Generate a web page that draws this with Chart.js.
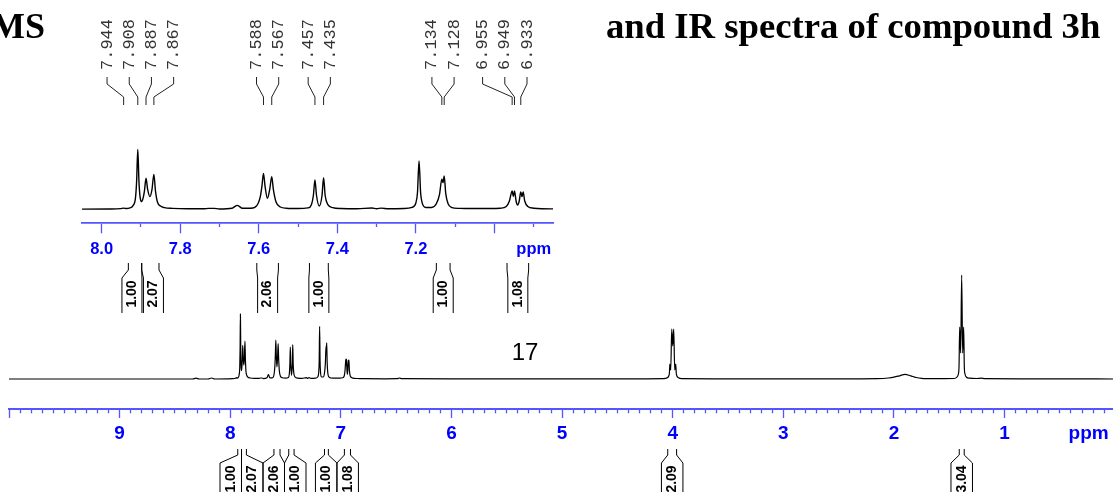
<!DOCTYPE html>
<html>
<head>
<meta charset="utf-8">
<script src="https://cdn.jsdelivr.net/npm/chart.js@4.4.1/dist/chart.umd.min.js"></script>
<style>
  html, body { margin: 0; padding: 0; background: #fff; }
  #wrap { position: relative; width: 1113px; height: 492px; overflow: hidden; }
  #main, #inset { position: absolute; left: 0; top: 0; }
</style>
</head>
<body>
<div id="wrap">
  <canvas id="main" width="1113" height="492"></canvas>
  <canvas id="inset" width="600" height="320"></canvas>
</div>
<script>
// spectrum trace (ppm, height above baseline)
const lowFieldPpm = [10.00, 8.34, 8.31, 8.28, 8.20, 8.17, 8.14, 7.980, 7.952, 7.944, 7.937, 7.928, 7.920, 7.914, 7.911, 7.908, 7.905, 7.902, 7.898, 7.894, 7.891, 7.887, 7.883, 7.877, 7.872, 7.867, 7.863, 7.858, 7.850, 7.840, 7.820, 7.780, 7.740, 7.728, 7.714, 7.700, 7.668, 7.660, 7.655, 7.650, 7.642, 7.620, 7.605, 7.596, 7.592, 7.588, 7.584, 7.578, 7.572, 7.567, 7.563, 7.556, 7.545, 7.530, 7.500, 7.475, 7.466, 7.461, 7.457, 7.453, 7.446, 7.439, 7.435, 7.431, 7.424, 7.412, 7.390, 7.350, 7.312, 7.300, 7.288, 7.270, 7.230, 7.210, 7.200, 7.196, 7.192, 7.188, 7.184, 7.175, 7.160, 7.148, 7.140, 7.134, 7.131, 7.128, 7.124, 7.118, 7.110, 7.090, 7.050, 7.010, 6.985, 6.970, 6.962, 6.955, 6.952, 6.949, 6.945, 6.941, 6.937, 6.933, 6.930, 6.927, 6.923, 6.915, 6.900, 6.880, 6.850, 6.800];
const lowFieldInt = [0, 0, 0.8, 0, 0, 1.0, 0, 0.3, 0.7, 1.3, 0.8, 1.6, 4, 12, 30, 65, 30, 13, 8.3, 13, 20, 33.7, 22, 13.8, 21, 38, 20, 8, 3.5, 1.8, 1.0, 0.6, 0.6, 1.0, 1.0, 0.4, 1.2, 3.3, 4.3, 3.3, 1.2, 1.2, 4, 14, 25, 39, 25, 12, 22, 35.5, 22, 8, 2.5, 1.2, 0.8, 1.5, 5, 15, 31.9, 15, 3.6, 15, 34.4, 15, 5, 1.8, 0.8, 0.6, 1.4, 0.6, 1.3, 0.6, 0.8, 2, 7, 18, 52.5, 18, 7, 2, 2, 6, 16, 32.6, 29, 36.2, 17, 6, 2.2, 1, 0.8, 0.8, 1.2, 3, 9, 20, 13.8, 20, 9, 4.7, 9, 18.9, 13.8, 18.9, 9, 3, 1.2, 0.6, 0.5, 0.3];

const midFieldPpm = [6.600, 6.490, 6.470, 6.450, 6.000, 5.000, 4.300, 4.080, 4.050, 4.036, 4.030, 4.026, 4.018, 4.009, 4.000, 3.991, 3.982, 3.973, 3.968, 3.962, 3.948, 3.920, 3.500];
const midFieldInt = [0.2, 0.3, 1.0, 0.3, 0.2, 0.2, 0.2, 0.3, 1.2, 3, 6, 15, 9, 50, 33, 50, 9, 15, 6, 3, 1.2, 0.3, 0.2];

const highFieldPpm = [2.500, 2.150, 2.050, 2.000, 1.950, 1.900, 1.850, 1.800, 1.750, 1.650, 1.460, 1.430, 1.418, 1.412, 1.406, 1.397, 1.388, 1.379, 1.370, 1.364, 1.358, 1.346, 1.320, 1.250, 1.210, 1.180, 0.600, 0.000];
const highFieldInt = [0.2, 0.4, 1.0, 1.8, 3.2, 4.7, 3.2, 1.5, 0.6, 0.3, 0.5, 2, 5, 12, 52, 26, 104, 26, 52, 12, 5, 2, 0.8, 0.5, 0.8, 0.3, 0.2, 0];

// picked peaks shown above the expansion
const peakLabelPpm = [7.944, 7.908, 7.887, 7.867, 7.588, 7.567, 7.457, 7.435, 7.134, 7.128, 6.955, 6.949, 6.933];

// integrals
const integralFrom = [7.932, 7.898, 7.605, 7.471, 7.148, 6.968, 4.045, 1.410];
const integralTo = [7.898, 7.854, 7.550, 7.423, 7.113, 6.913, 3.965, 1.365];
const integralValue = ['1.00', '2.07', '2.06', '1.00', '1.00', '1.08', '2.09', '3.04'];
const insetIntegralCount = 6;

const AXIS_BLUE = '#5555ff';
const LABEL_BLUE = '#0000ff';

function toPoints(ppm, val) {
    return ppm.map((p, i) => ({ x: p, y: val[i] }));
}
const spectrum = [].concat(
    toPoints(lowFieldPpm, lowFieldInt),
    toPoints(midFieldPpm, midFieldInt),
    toPoints(highFieldPpm, highFieldInt)
);

// push crowded labels apart, keeping each cluster centred on its peaks
function spreadLabels(px, gap, maxX) {
    let groups = px.map(p => ({ items: [p] }));
    const center = g => g.items.reduce((s, v) => s + v, 0) / g.items.length;
    const span = g => (g.items.length - 1) * gap / 2;
    let merged = true;
    while (merged) {
        merged = false;
        for (let i = 0; i < groups.length - 1; i++) {
            const a = groups[i], b = groups[i + 1];
            if ((center(b) - span(b)) - (center(a) + span(a)) < gap) {
                groups.splice(i, 2, { items: a.items.concat(b.items) });
                merged = true;
                break;
            }
        }
    }
    const out = [];
    groups.forEach((g, gi) => {
        let start = center(g) - span(g);
        const end = start + (g.items.length - 1) * gap;
        if (gi === groups.length - 1 && end > maxX) start -= end - maxX;
        g.items.forEach((_, k) => out.push(start + k * gap));
    });
    return out;
}

function drawIntegrals(chart, idx, o) {
    const { ctx, scales: { x } } = chart;
    const centers = idx.map(i => (x.getPixelForValue(integralFrom[i]) + x.getPixelForValue(integralTo[i])) / 2);
    const cx = spreadLabels(centers, o.gap, Infinity);
    ctx.save();
    ctx.strokeStyle = '#000';
    ctx.lineWidth = 1;
    idx.forEach((i, k) => {
        const a = x.getPixelForValue(integralFrom[i]);
        const b = x.getPixelForValue(integralTo[i]);
        const x1 = Math.min(a, b), x2 = Math.max(a, b);
        const hw = o.width / 2;
        ctx.beginPath();
        ctx.moveTo(x1, o.topY); ctx.lineTo(x1, o.slantY);
        ctx.lineTo(cx[k] - hw, o.cornerY); ctx.lineTo(cx[k] - hw, o.bottomY);
        ctx.moveTo(x2, o.topY); ctx.lineTo(x2, o.slantY);
        ctx.lineTo(cx[k] + hw, o.cornerY); ctx.lineTo(cx[k] + hw, o.bottomY);
        ctx.stroke();
        ctx.save();
        ctx.translate(cx[k], o.textY);
        ctx.rotate(-Math.PI / 2);
        ctx.font = "bold 14px 'Liberation Sans', Arial, sans-serif";
        ctx.fillStyle = '#000';
        ctx.textAlign = 'center';
        ctx.textBaseline = 'middle';
        ctx.fillText(integralValue[i], 0, 0);
        ctx.restore();
    });
    ctx.restore();
}

const mainDecor = {
    id: 'mainDecor',
    afterDraw(chart) {
        const ctx = chart.ctx;
        const all = integralValue.map((_, i) => i);
        drawIntegrals(chart, all, { gap: 21.5, width: 21.5, topY: 449, slantY: 455, cornerY: 463, bottomY: 500, textY: 479 });

        ctx.save();
        ctx.fillStyle = '#000';
        ctx.textBaseline = 'alphabetic';
        ctx.font = "bold 36px 'Liberation Serif', 'Times New Roman', serif";
        ctx.textAlign = 'right';
        ctx.fillText('MS', 45, 38);
        const title = 'and IR spectra of compound 3h';
        const size = 36 * 495 / ctx.measureText(title).width;
        ctx.font = 'bold ' + size.toFixed(1) + "px 'Liberation Serif', 'Times New Roman', serif";
        ctx.textAlign = 'left';
        ctx.fillText(title, 606, 38);
        ctx.font = "24px 'Liberation Sans', Arial, sans-serif";
        ctx.textAlign = 'center';
        ctx.fillText('17', 525, 360);
        ctx.restore();
    }
};

const insetDecor = {
    id: 'insetDecor',
    afterDraw(chart) {
        const { ctx, scales: { x } } = chart;
        const px = peakLabelPpm.map(p => x.getPixelForValue(p));
        const lx = spreadLabels(px, 22.2, 527);
        ctx.save();
        ctx.strokeStyle = '#222';
        ctx.lineWidth = 1;
        px.forEach((p, i) => {
            ctx.beginPath();
            ctx.moveTo(lx[i], 77); ctx.lineTo(lx[i], 84);
            ctx.lineTo(p, 97); ctx.lineTo(p, 105);
            ctx.stroke();
            ctx.save();
            ctx.translate(lx[i], 70);
            ctx.rotate(-Math.PI / 2);
            ctx.font = "17px 'Liberation Mono', 'Courier New', monospace";
            ctx.fillStyle = '#333';
            ctx.textAlign = 'left';
            ctx.textBaseline = 'middle';
            ctx.fillText(peakLabelPpm[i].toFixed(3), 0, 0);
            ctx.restore();
        });
        ctx.restore();
        const idx = [];
        for (let i = 0; i < insetIntegralCount; i++) idx.push(i);
        drawIntegrals(chart, idx, { gap: 21.5, width: 20, topY: 263, slantY: 270, cornerY: 278, bottomY: 313, textY: 294 });
    }
};

// axis tick lists: every 0.1 ppm, long ticks on the labelled ones
const mainTicks = [];
for (let t = 1; t <= 100; t++) mainTicks.push(t / 10);
const MAIN_PPM_AT = 0.24;
mainTicks.unshift(MAIN_PPM_AT);

const insetTicks = [];
for (let t = 69; t <= 80; t++) insetTicks.push(t / 10);

function tenths(v) { return Math.round(v * 10); }

new Chart(document.getElementById('main'), {
    type: 'line',
    data: {
        datasets: [{
            data: spectrum,
            borderColor: '#000',
            borderWidth: 1.2,
            pointRadius: 0,
            fill: false,
            cubicInterpolationMode: 'monotone'
        }]
    },
    options: {
        responsive: false,
        animation: false,
        layout: { padding: { top: 260, bottom: 43.2, left: 9, right: 0 } },
        plugins: { legend: { display: false }, tooltip: { enabled: false } },
        scales: {
            x: {
                type: 'linear',
                reverse: true,
                bounds: 'data',
                min: 0.02,
                max: 10,
                afterBuildTicks: axis => { axis.ticks = mainTicks.map(v => ({ value: v })); },
                ticks: {
                    autoSkip: false,
                    maxRotation: 0,
                    padding: 4,
                    color: LABEL_BLUE,
                    font: { family: "'Liberation Sans', Arial, sans-serif", size: 19, weight: 'bold' },
                    callback: v => {
                        if (v === MAIN_PPM_AT) return 'ppm';
                        const t = tenths(v);
                        return (t % 10 === 0 && t >= 10 && t <= 90) ? String(t / 10) : '';
                    }
                },
                grid: {
                    drawOnChartArea: false,
                    drawTicks: true,
                    tickLength: 9,
                    tickWidth: 1.3,
                    tickColor: c => (c.tick && c.tick.value === MAIN_PPM_AT) ? 'rgba(0,0,0,0)' : AXIS_BLUE,
                    tickBorderDash: c => (c.tick && tenths(c.tick.value) % 10 === 0) ? [] : [3.3, 40]
                },
                border: { display: true, color: AXIS_BLUE, width: 2 }
            },
            y: { type: 'linear', display: false, min: -30, max: 119 }
        }
    },
    plugins: [mainDecor]
});

new Chart(document.getElementById('inset'), {
    type: 'line',
    data: {
        datasets: [{
            data: spectrum,
            borderColor: '#000',
            borderWidth: 1.4,
            pointRadius: 0,
            fill: false,
            cubicInterpolationMode: 'monotone'
        }]
    },
    options: {
        responsive: false,
        animation: false,
        layout: { padding: { top: 140, bottom: 54.9, left: 82, right: 47 } },
        plugins: { legend: { display: false }, tooltip: { enabled: false } },
        scales: {
            x: {
                type: 'linear',
                reverse: true,
                bounds: 'data',
                min: 6.851,
                max: 8.05,
                afterBuildTicks: axis => { axis.ticks = insetTicks.map(v => ({ value: v })); },
                ticks: {
                    autoSkip: false,
                    maxRotation: 0,
                    padding: 6,
                    color: LABEL_BLUE,
                    font: { family: "'Liberation Sans', Arial, sans-serif", size: 16.5, weight: 'bold' },
                    callback: v => {
                        const t = tenths(v);
                        if (t === 69) return 'ppm';
                        return (t % 2 === 0 && t >= 72) ? (t / 10).toFixed(1) : '';
                    }
                },
                grid: {
                    drawOnChartArea: false,
                    drawTicks: true,
                    tickLength: 10,
                    tickWidth: 1.3,
                    tickColor: AXIS_BLUE,
                    tickBorderDash: c => (c.tick && tenths(c.tick.value) % 2 === 0) ? [] : [3.3, 40]
                },
                border: { display: true, color: AXIS_BLUE, width: 1.7 }
            },
            y: { type: 'linear', display: false, min: -15.2, max: 75.3 }
        }
    },
    plugins: [insetDecor]
});
</script>
</body>
</html>
